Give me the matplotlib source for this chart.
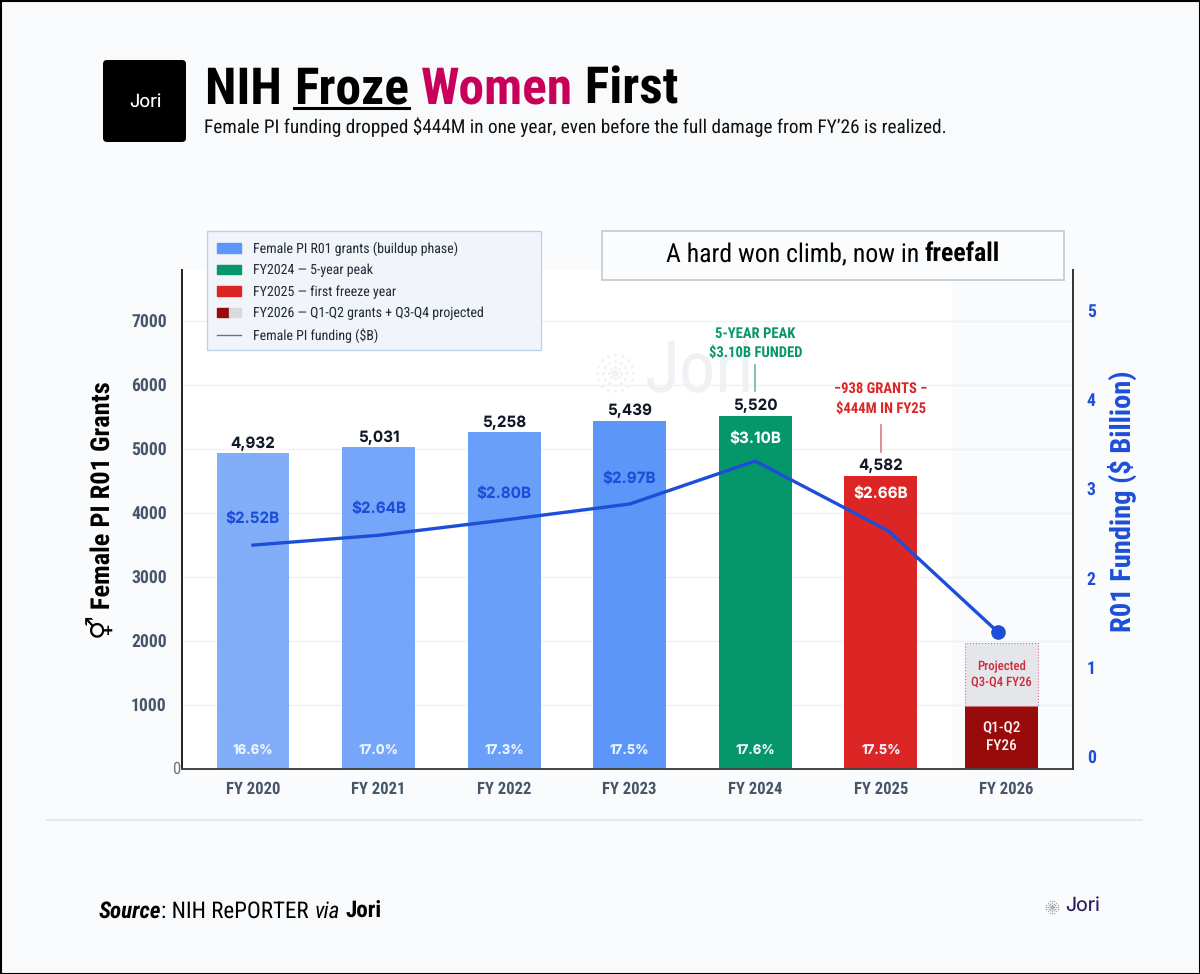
import matplotlib
matplotlib.use('Agg')
import matplotlib.pyplot as plt
import matplotlib.patches as mpatches
import numpy as np
from matplotlib.legend_handler import HandlerTuple
from matplotlib.lines import Line2D

COND = ['Roboto Condensed', 'Roboto', 'DejaVu Sans']
WIDE = ['Inter', 'DejaVu Sans']
plt.rcParams['font.family'] = COND
plt.rcParams['text.hinting'] = 'no_hinting'

years = ['FY 2020', 'FY 2021', 'FY 2022', 'FY 2023', 'FY 2024', 'FY 2025', 'FY 2026']
grants = [4932, 5031, 5258, 5439, 5520, 4582]
q1q2_grants = 990
projected_grants = 975
bar_colors = ['#82aef9', '#76a6f9', '#699ef9', '#5c96f9', '#059669', '#dc2626']
funding_labels = ['$2.52B', '$2.64B', '$2.80B', '$2.97B', '$3.10B', '$2.66B']
funding_label_y = [3900, 4060, 4290, 4520, 5156, 4297]
share_labels = ['16.6%', '17.0%', '17.3%', '17.5%', '17.6%', '17.5%']
# line as it sits against the right axis
funding_line = [2.37, 2.48, 2.65, 2.83, 3.31, 2.53, 1.40]
left_ticks = [1000, 2000, 3000, 4000, 5000, 6000, 7000]
right_ticks = [0, 1, 2, 3, 4, 5]

W, H = 1200, 974
BG = '#f8fafc'
BLUE = '#1d4ed8'

fig = plt.figure(figsize=(12, 9.74), dpi=100, facecolor=BG)


def px_axes(x0, y0, x1, y1, **kw):
    return fig.add_axes([x0 / W, 1 - y1 / H, (x1 - x0) / W, (y1 - y0) / H], **kw)


def logo_mark(ax, cx, cy, r, color, size):
    """dotted round logo"""
    for frac, n in [(0.35, 8), (0.65, 12), (1.0, 16)]:
        a = np.linspace(0, 2 * np.pi, n, endpoint=False)
        ax.scatter(cx + r * frac * np.cos(a), cy + r * frac * np.sin(a), s=size, color=color, lw=0)
    ax.scatter([cx], [cy], s=size * 5, color=color, lw=0)


def runs(ax, x, y, parts, fontsize, align='left', **common):
    """draw text pieces one after another, returns the artists"""
    r = fig.canvas.get_renderer()
    arts = [ax.text(x, y, s, fontsize=fontsize, va='baseline', ha='left', **common, **kw) for s, kw in parts]
    widths = [a.get_window_extent(r).width for a in arts]
    if align == 'center':
        x = x - sum(widths) / 2
    for a, w in zip(arts, widths):
        a.set_x(x)
        x += w
    return arts


# full page layer for header, footer and card
page = px_axes(0, 0, W, H, zorder=0)
page.set_xlim(0, W)
page.set_ylim(H, 0)
page.axis('off')
page.add_patch(mpatches.Rectangle((0.5, 0.5), W - 1, H - 1, fc='none', ec='black', lw=1.5))
page.add_patch(mpatches.Rectangle((47, 222), 1095, 598, fc='#f9fbfd', ec='none'))
page.plot([47, 1142], [820, 820], color='#e5e8ec', lw=1.5)
page.add_patch(mpatches.Rectangle((182, 270), 770, 499, fc='white', ec='none'))
page.add_patch(mpatches.FancyBboxPatch((105, 62), 79, 78, boxstyle='round,pad=2,rounding_size=4', fc='black', ec='none'))
page.text(145, 102, 'Jori', color='white', fontsize=13, ha='center', va='center', family=WIDE)

# watermark
page.text(700, 373, 'Jori', color='#f0f1f5', fontsize=52, ha='center', va='center')
logo_mark(page, 615, 373, 18, '#f1f2f6', 5)

bold = dict(color='black', weight='bold')
title = runs(page, 205, 104, [('NIH\u00a0', bold), ('Froze', bold), ('\u00a0', bold),
                              ('Women', dict(color='#c8005a', weight='bold')), ('\u00a0First', bold)], 37)
r = fig.canvas.get_renderer()
bb = title[1].get_window_extent(r)
page.plot([bb.x0, bb.x1], [108, 108], color='black', lw=2.2)
page.text(204, 127, "Female PI funding dropped $444M in one year, even before the full damage from FY\u201926 is realized.",
          fontsize=13.9, color='#111111', va='center')

runs(page, 99, 918, [('Source', dict(weight='bold', style='italic', color='black')),
                     (': NIH RePORTER ', dict(color='black')),
                     ('via', dict(style='italic', color='black')),
                     ('\u00a0', dict(color='black')),
                     ('Jori', dict(weight='bold', color='black'))], 16.6)
page.text(1083, 906, 'Jori', fontsize=14, color='#2a1a5e', ha='center', va='center', family=WIDE)
logo_mark(page, 1052, 907, 6, '#a9aab4', 1.2)

# chart
ax = px_axes(182, 270, 1073, 769, zorder=2)
ax.patch.set_alpha(0)
x_pos = list(range(len(years)))
ax.set_xlim(-0.565, 6.53)
ax.set_ylim(0, 7797)
ax.grid(axis='y', color='#eef1f5', lw=1)
ax.set_axisbelow(True)

ax.bar(x_pos[:6], grants, width=0.58, color=bar_colors, zorder=2)
x26 = x_pos[6] - 0.04
ax.bar(x26, q1q2_grants, width=0.58, color='#990a0a', zorder=2)
ax.bar(x26, projected_grants, bottom=q1q2_grants, width=0.58, color='#e4e6ea', edgecolor='#d96b80',
       lw=0.8, ls=':', zorder=2)

for i, g in enumerate(grants):
    ax.text(i, g + 35, f'{g:,}', ha='center', va='bottom', fontsize=11, weight='bold', color='#111827', family=WIDE)
    ax.text(i, 300, share_labels[i], ha='center', va='center', fontsize=9.5, weight='bold', color='#eef4ff', family=WIDE)
for i, lab in enumerate(funding_labels):
    c = 'white' if i >= 4 else BLUE
    ax.text(i, funding_label_y[i], lab, ha='center', va='center', fontsize=11, weight='bold', color=c,
            family=WIDE, zorder=6)

ax.text(x26, q1q2_grants + projected_grants / 2, 'Projected\nQ3-Q4 FY26', ha='center', va='center',
        fontsize=9.2, weight='medium', color='#d1293d', linespacing=1.25)
ax.text(x26, q1q2_grants / 2, 'Q1-Q2\nFY26', ha='center', va='center', fontsize=11, weight='medium',
        color='#fdf2f2', linespacing=1.3)

ax.text(4, 6660, '5-YEAR PEAK\n$3.10B FUNDED', ha='center', va='center', fontsize=10.5, weight='bold',
        color='#059669', linespacing=1.4)
ax.plot([4, 4], [5906, 6312], color='#6db8a0', lw=1.2)
ax.text(5, 5790, '\u2212938 GRANTS \u2212\n$444M IN FY25', ha='center', va='center', fontsize=10.5,
        weight='bold', color='#dc2626', linespacing=1.4)
ax.plot([5, 5], [4953, 5375], color='#e07a7a', lw=1.2)

ax.set_xticks(x_pos)
ax.set_xticklabels(years, fontsize=12, weight='bold', color='#475569')
ax.set_yticks(left_ticks)
ax.set_yticklabels([str(t) for t in left_ticks], fontsize=12.7, weight='bold', color='#475569')
ax.tick_params(axis='y', length=0, pad=11)
ax.tick_params(axis='x', length=0, pad=9)
ax.text(-0.575, 0, '0', ha='right', va='center', fontsize=12, color='#6b7280')
ax.spines['top'].set_visible(False)
ax.spines['left'].set_color('#222222')
ax.spines['left'].set_linewidth(1.4)
ax.spines['bottom'].set_color('#444444')
ax.spines['bottom'].set_linewidth(1.4)
ax.spines['right'].set_visible(False)

# right axis, zero sits above the baseline in the original
ax2 = ax.twinx()
ax2.set_ylim(-0.134, 5.447)
ax2.patch.set_alpha(0)
ax2.set_yticks(right_ticks)
ax2.set_yticklabels([str(t) for t in right_ticks], fontsize=12.7, weight='bold', color=BLUE)
ax2.tick_params(axis='y', length=0, pad=10)
for s in ['top', 'left', 'bottom']:
    ax2.spines[s].set_visible(False)
ax2.spines['right'].set_color('#333333')
ax2.spines['right'].set_linewidth(1.4)
line_x = list(x_pos)
line_x[5] += 0.06
line_x[6] -= 0.07
ax2.plot(line_x, funding_line, color=BLUE, lw=2.4, zorder=5)
ax2.plot(line_x[-1], funding_line[-1], 'o', color=BLUE, ms=9.5, zorder=6)

page.text(102, 510, '\u26a5 Female PI R01 Grants', rotation=90, ha='center', va='center', fontsize=19,
          weight='bold', color='black', zorder=5)
page.text(1122, 501, 'R01 Funding ($ Billion)', rotation=90, ha='center', va='center', fontsize=20.5,
          weight='bold', color=BLUE, zorder=5)

# top layer: legend and headline box
top = px_axes(0, 0, W, H, zorder=4)
top.set_xlim(0, W)
top.set_ylim(H, 0)
top.axis('off')
top.patch.set_alpha(0)
top.add_patch(mpatches.Rectangle((602, 231), 462, 49, fc='#fbfcfd', ec='#c4c8cc', lw=1.2))
runs(top, 833, 262, [('A hard won climb, now in\u00a0', dict(color='black')),
                     ('freefall', dict(color='black', weight='bold'))], 18.5, align='center')

top.add_patch(mpatches.Rectangle((207, 231), 334, 119, fc='#f1f5fa', ec='#bcd3ee', lw=1))
h_b = mpatches.Patch(color='#5c96f9')
h_g = mpatches.Patch(color='#059669')
h_r = mpatches.Patch(color='#dc2626')
h_d = (mpatches.Patch(color='#990a0a'), mpatches.Patch(color='#d8dadd'))
h_l = Line2D([], [], color='#64748b', lw=1)
leg = top.legend([h_b, h_g, h_r, h_d, h_l],
                 ['Female PI R01 grants (buildup phase)', 'FY2024 \u2014 5-year peak', 'FY2025 \u2014 first freeze year',
                  'FY2026 \u2014 Q1-Q2 grants + Q3-Q4 projected', 'Female PI funding ($B)'],
                 handler_map={tuple: HandlerTuple(ndivide=None, pad=0)},
                 loc='upper left', bbox_to_anchor=(207 / W, 1 - 231 / H), borderaxespad=0,
                 fontsize=10, labelcolor='#1f2937', frameon=False,
                 handlelength=1.73, handleheight=0.7, labelspacing=0.57, handletextpad=0.8,
                 borderpad=0.75)

fig.savefig('out.png', dpi=100, facecolor=BG)
